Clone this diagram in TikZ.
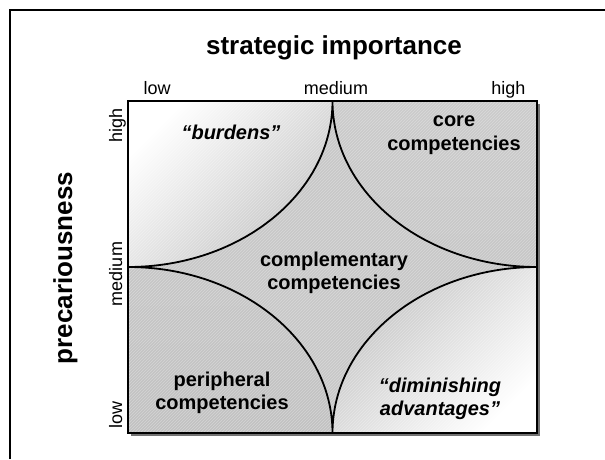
\documentclass[tikz,border=0pt]{standalone}
\usepackage{fontspec}
\setmainfont{Liberation Sans}
\usetikzlibrary{calc, patterns}
\definecolor{cellgray}{RGB}{194,194,194}
\definecolor{stargray}{RGB}{200,200,200}

\begin{document}
\begin{tikzpicture}[x=1pt,y=1pt,quadrant/.style={align=center,font=\bfseries\fontsize{20}{23.5}\selectfont},quote/.style={align=center,font=\bfseries\itshape\fontsize{20}{23}\selectfont},scale label/.style={anchor=base,font=\fontsize{18}{20}\selectfont},axis title/.style={anchor=base,font=\bfseries\fontsize{26}{30}\selectfont},border/.style={line width=2.5pt},curve/.style={line width=1.8pt}
]
\useasboundingbox (0,0) rectangle (605,459);
\draw[line width=2pt] (10,0) -- (10,449) -- (605,449);

\coordinate (sw) at (128,26);
\coordinate (ne) at (537,358);
\coordinate (nw) at (128,358);
\coordinate (se) at (537,26);
\coordinate (n) at (332.5,358);
\coordinate (s) at (332.5,26);
\coordinate (w) at (128,192);
\coordinate (e) at (537,192);
\def\rx{204.5}
\def\ry{166}

\fill[black!55] ($(sw)+(2.5,-2.5)$) rectangle ($(ne)+(2.5,-2.5)$);
\shade[top color=cellgray!85!white, bottom color=cellgray] (sw) rectangle (ne);
\shade[top color=white, bottom color=cellgray, shading angle=45] (nw) -- (n) arc[start angle=0,end angle=-90,x radius=\rx,y radius=\ry] -- cycle;
\shade[top color=white, bottom color=cellgray, shading angle=225] (se) -- (s) arc[start angle=180,end angle=90,x radius=\rx,y radius=\ry] -- cycle;
\fill[stargray] (n) arc[start angle=0,end angle=-90,x radius=\rx,y radius=\ry] arc[start angle=90,end angle=0,x radius=\rx,y radius=\ry] arc[start angle=180,end angle=90,x radius=\rx,y radius=\ry] arc[start angle=-90,end angle=-180,x radius=\rx,y radius=\ry] -- cycle;
\fill[pattern=north east lines, pattern color=white, opacity=0.3] (sw) rectangle (ne);
\draw[curve] (n) arc[start angle=0,end angle=-90,x radius=\rx,y radius=\ry] arc[start angle=90,end angle=0,x radius=\rx,y radius=\ry] arc[start angle=180,end angle=90,x radius=\rx,y radius=\ry] arc[start angle=-90,end angle=-180,x radius=\rx,y radius=\ry] -- cycle;
\draw[border] (sw) rectangle (ne);

\node[axis title] (title) at (334,404) {strategic importance};
\node[scale label, anchor=base west] (xlow) at (140,364) {low};
\node[scale label] (xmed) at (336,364) {medium};
\node[scale label, anchor=base east] (xhigh) at (529,364) {high};
\node[axis title, rotate=90] (ytitle) at (72,191) {precariousness};
\node[scale label, rotate=90] (ylow) at (122,44) {low};
\node[scale label, rotate=90] (ymed) at (122,185) {medium};
\node[scale label, rotate=90] (yhigh) at (122,334) {high};

\node[quote, anchor=base] (burdens) at (231,320) {“burdens”};
\node[quadrant] (core) at (454,324) {core\\competencies};
\node[quadrant] (compl) at (334,186) {complementary\\competencies};
\node[quadrant] (periph) at (222,66) {peripheral\\competencies};
\node[quote] (dimin) at (440,60) {“diminishing\\advantages”};
\end{tikzpicture}
\end{document}
